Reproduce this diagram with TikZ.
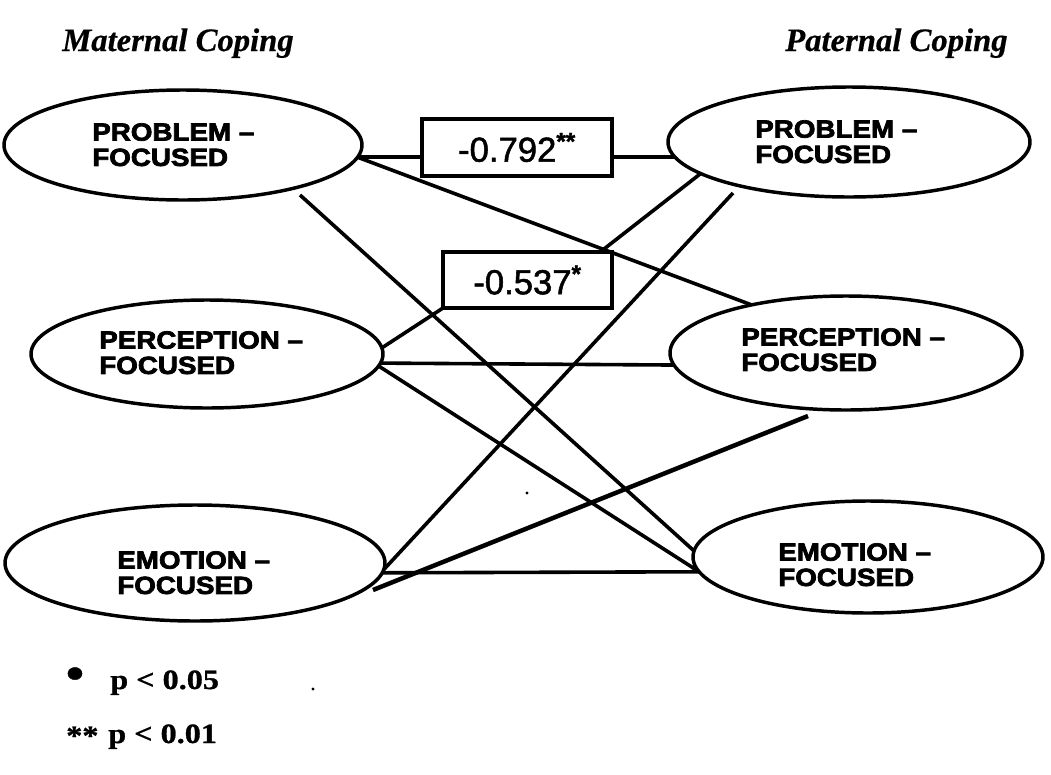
\documentclass[tikz,border=0pt]{standalone}
\usepackage{fontspec}
\usetikzlibrary{shapes.geometric,calc}
\newfontfamily\labfont[FakeStretch=1.12,FakeBold=3]{Liberation Sans}
\newfontfamily\boxfont[FakeBold=1.5]{Liberation Sans}
\newfontfamily\legfont[FakeStretch=1.15,FakeBold=1]{Liberation Serif}
\newfontfamily\titfont[FakeBold=0.5]{Liberation Serif}
\begin{document}
\begin{tikzpicture}[x=0.75pt,y=-0.75pt,
  oval/.style={draw, ellipse, inner sep=0pt, outer sep=0pt, line width=2.6pt},
  lab/.style={anchor=north west, inner sep=0pt, align=left, font=\labfont\bfseries\fontsize{18.6}{19}\selectfont},
  valbox/.style={draw, rectangle, inner sep=0pt, outer sep=0pt, line width=2.4pt, font=\boxfont\fontsize{26}{30}\selectfont},
  link/.style={line width=2.7pt},
  heavylink/.style={line width=3.4pt},
  ttl/.style={anchor=base west, inner sep=0pt, font=\titfont\bfseries\itshape\fontsize{24.5}{28}\selectfont},
  leg/.style={anchor=base west, inner sep=0pt, font=\legfont\bfseries\fontsize{21}{24}\selectfont}]
\useasboundingbox (0,0) rectangle (1051,775);

% titles
\node[ttl] (tm) at (62,51) {Maternal Coping};
\node[ttl] (tp) at (785,51) {Paternal Coping};

% ellipses
\node[oval, minimum width=268.5pt, minimum height=82.5pt] (LP) at (183,145) {};
\node[oval, minimum width=264pt, minimum height=81pt] (LPer) at (207,354) {};
\node[oval, minimum width=285pt, minimum height=87pt] (LE) at (195,563) {};
\node[oval, minimum width=271.5pt, minimum height=82.5pt] (RP) at (849,142) {};
\node[oval, minimum width=264pt, minimum height=85.5pt] (RPer) at (846,353) {};
\node[oval, minimum width=262.5pt, minimum height=84pt] (RE) at (868,557) {};

% labels
\node[lab] (tLP) at (92,123) {PROBLEM –\\FOCUSED};
\node[lab] (tLPer) at (99,331) {PERCEPTION –\\FOCUSED};
\node[lab] (tLE) at (117,551) {EMOTION –\\FOCUSED};
\node[lab] (tRP) at (755,120) {PROBLEM –\\FOCUSED};
\node[lab] (tRPer) at (741,328) {PERCEPTION –\\FOCUSED};
\node[lab] (tRE) at (778,543) {EMOTION –\\FOCUSED};

% value boxes
\node[valbox, minimum width=142.5pt, minimum height=42.75pt] (box1) at (517,147.5) {-0.792\textsuperscript{\bfseries **}\hspace{4pt}};
\node[valbox, minimum width=126.75pt, minimum height=42pt] (box2) at (527.5,280) {-0.537\textsuperscript{\bfseries *}};

% connectors
\draw[link] (LP.-4.2) -- (LP.-4.2 -| box1.west);
\draw[link] (box1.east |- RP.-175.5) -- (RP.-175.5);
\draw[link] (LP.-4.8) -- (RPer.153.4);
\coordinate (s3) at (300,195);
\draw[link] (s3) -- (RE.178.7);
\coordinate (b2top) at ($(box2.north west)!0.93!(box2.north east)$);
\draw[link] (RP.-168.4) -- (b2top);
\draw[link] (box2.south west) -- (LPer.2.3);
\coordinate (s5) at (733,193);
\draw[link] (s5) -- (LE.-2.1);
\draw[link] (LPer.-3.9) -- (RPer.-176.7);
\draw[link] (LPer.-4.8) -- (RE.-175.8);
\coordinate (s8a) at (808,416);
\coordinate (s8b) at (373,590);
\draw[heavylink] (s8a) -- (s8b);
\draw[link] (LE.-3) -- (RE.-175.1);

% specks
\fill (527,493) circle (1.6);
\fill (313,689) circle (1.6);

% legend
\node[inner sep=0pt, font=\legfont\bfseries\fontsize{34}{34}\selectfont] (b1) at (75,678) {•};
\node[leg] (l1) at (110,689) {p < 0.05};
\node[leg] (b2) at (66,745) {**};
\node[leg] (l2) at (108,743) {p < 0.01};
\end{tikzpicture}
\end{document}
